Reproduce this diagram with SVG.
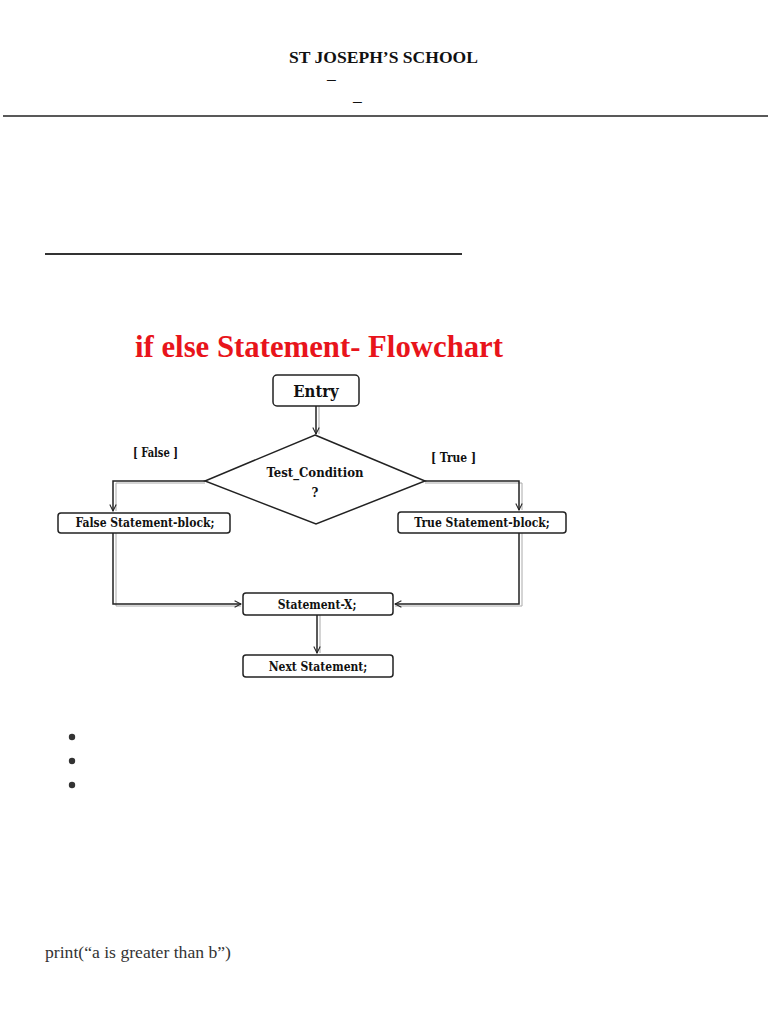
<svg xmlns="http://www.w3.org/2000/svg" width="768" height="1024" viewBox="0 0 768 1024">
<style>
.hdr{font-family:"Liberation Serif",serif;font-weight:bold;font-size:17.5px;fill:#111}
.title{font-family:"Liberation Serif",serif;font-weight:bold;font-size:31px;fill:#e8141b}
.box{fill:#fff;stroke:#222;stroke-width:1.5}
.nt{font-family:"DejaVu Serif Condensed","DejaVu Serif",serif;font-weight:bold;font-size:12px;fill:#111;text-anchor:middle}
.lbl{font-family:"DejaVu Serif Condensed","DejaVu Serif",serif;font-weight:bold;font-size:13px;fill:#111}
.c{fill:none;stroke:#222;stroke-width:1.5}
.s{fill:none;stroke:#aaa;stroke-width:1}
.body{font-family:"Liberation Serif",serif;font-size:17.5px;fill:#333}
</style>
<defs>
<marker id="arr" viewBox="0 0 10 10" refX="9" refY="5" markerWidth="8" markerHeight="8" orient="auto" markerUnits="userSpaceOnUse">
<path d="M1,1 L9,5 L1,9" fill="none" stroke="#222" stroke-width="1.3"/>
</marker>
</defs>
<text class="hdr" x="289" y="63" textLength="189" lengthAdjust="spacingAndGlyphs">ST JOSEPH’S SCHOOL</text>
<text class="hdr" x="327" y="84" style="font-weight:normal">–</text>
<text class="hdr" x="353" y="106" style="font-weight:normal">–</text>
<line x1="3" y1="116" x2="768" y2="116" stroke="#222" stroke-width="1.5"/>
<line x1="45" y1="254" x2="462" y2="254" stroke="#333" stroke-width="2"/>
<text class="title" x="135" y="357" textLength="368" lengthAdjust="spacingAndGlyphs">if else Statement- Flowchart</text>
<g id="connectors">
<path class="s" d="M319,406 V434"/>
<path class="c" d="M316,406 V434" marker-end="url(#arr)"/>
<path class="s" d="M205,483 H116 V511"/>
<path class="c" d="M205,481 H113 V511" marker-end="url(#arr)"/>
<path class="s" d="M425,483 H522 V510"/>
<path class="c" d="M425,481 H519 V510" marker-end="url(#arr)"/>
<path class="s" d="M116,533 V606 H241"/>
<path class="c" d="M113,533 V604 H241" marker-end="url(#arr)"/>
<path class="s" d="M522,533 V606 H395"/>
<path class="c" d="M519,533 V604 H395" marker-end="url(#arr)"/>
<path class="s" d="M320,615 V653"/>
<path class="c" d="M317,615 V653" marker-end="url(#arr)"/>
</g>
<g id="entry">
<rect class="box" x="273" y="375" width="86" height="31" rx="4"/>
<text class="nt" x="316" y="397" style="font-size:16.5px">Entry</text>
</g>
<g id="test">
<polygon class="box" points="315,435 425,481 316,524 205,481"/>
<text class="nt" x="315" y="477" style="font-size:13px">Test_Condition</text>
<text class="nt" x="315" y="497" style="font-size:13px">?</text>
</g>
<g id="false-label"><text class="lbl" x="133" y="457" textLength="45" lengthAdjust="spacingAndGlyphs">[ False ]</text></g>
<g id="true-label"><text class="lbl" x="431" y="462" textLength="45" lengthAdjust="spacingAndGlyphs">[ True ]</text></g>
<g id="false-block">
<rect class="box" x="58" y="513" width="172" height="20" rx="3"/>
<text class="nt" x="145" y="527">False Statement-block;</text>
</g>
<g id="true-block">
<rect class="box" x="398" y="512" width="168" height="21" rx="3"/>
<text class="nt" x="482" y="527">True Statement-block;</text>
</g>
<g id="statement-x">
<rect class="box" x="243" y="593" width="150" height="22" rx="3"/>
<text class="nt" x="317" y="609">Statement-X;</text>
</g>
<g id="next">
<rect class="box" x="243" y="655" width="150" height="22" rx="3"/>
<text class="nt" x="318" y="671">Next Statement;</text>
</g>
<circle cx="72" cy="737" r="3.2" fill="#333"/>
<circle cx="72" cy="761" r="3.2" fill="#333"/>
<circle cx="72" cy="785" r="3.2" fill="#333"/>
<text class="body" x="45" y="958" textLength="186" lengthAdjust="spacingAndGlyphs">print(“a is greater than b”)</text>
</svg>
